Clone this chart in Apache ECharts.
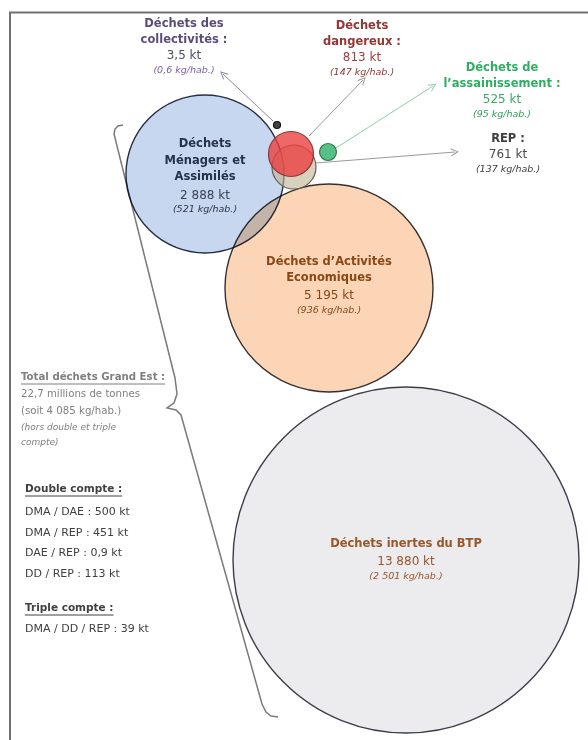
<!DOCTYPE html>
<html>
<head>
<meta charset="utf-8">
<script src="https://cdn.jsdelivr.net/npm/echarts@6/dist/echarts.min.js"></script>
<style>
  html, body { margin: 0; padding: 0; background: #fff; }
  #chart { width: 588px; height: 740px; }
</style>
</head>
<body>
<div id="chart"></div>
<script>
// Gisements de déchets du Grand Est, en kt et en kg/hab.
const categories = ["Déchets inertes du BTP", "Déchets Ménagers et Assimilés", "Déchets d’Activités Economiques",
  "REP", "Déchets dangereux", "Déchets de l’assainissement", "Déchets des collectivités"];
const titleLines = [["Déchets inertes du BTP"], ["Déchets", "Ménagers et", "Assimilés"], ["Déchets d’Activités", "Economiques"],
  ["REP :"], ["Déchets", "dangereux :"], ["Déchets de", "l’assainissement :"], ["Déchets des", "collectivités :"]];
const tonnageKt = [13880, 2888, 5195, 761, 813, 525, 3.5];
const tonnageLabels = ["13 880 kt", "2 888 kt", "5 195 kt", "761 kt", "813 kt", "525 kt", "3,5 kt"];
const ratioLabels = ["(2 501 kg/hab.)", "(521 kg/hab.)", "(936 kg/hab.)", "(137 kg/hab.)", "(147 kg/hab.)", "(95 kg/hab.)", "(0,6 kg/hab.)"];

const totalTitle = "Total déchets Grand Est :";
const totalLines = ["22,7 millions de tonnes", "(soit 4 085 kg/hab.)"];
const totalNote = ["(hors double et triple", "compte)"];
const doubleTitle = "Double compte :";
const doubleCompte = ["DMA / DAE : 500 kt", "DMA / REP : 451 kt", "DAE / REP : 0,9 kt", "DD / REP : 113 kt"];
const tripleTitle = "Triple compte :";
const tripleCompte = ["DMA / DD / REP : 39 kt"];

// placement du diagramme (repère en pixels : axes 0..588 et 0..740)
const FONT = '"DejaVu Sans", Verdana, sans-serif';
const bubbles = [
  {x: 406, y: 560, r: 173, fill: '#ececee', border: '#3a3f4a', title: '#9b5526', value: '#98552c', ital: '#98552c', dy: 0},
  {x: 205, y: 174, r: 79, fill: '#c6d7ef', border: '#2a3242', title: '#26324a', value: '#3a4254', ital: '#2e3546', dy: 3},
  {x: 329, y: 288, r: 104, fill: '#fbd5b5', border: '#34343a', title: '#8a4716', value: '#86461a', ital: '#86461a', dy: -2},
  {x: 294, y: 167, r: 22, fill: 'rgba(190,180,148,0.62)', border: '#6b5e52'},
  {x: 291, y: 154, r: 22.5, fill: 'rgba(236,60,62,0.78)', border: '#8c3636'},
  {x: 328, y: 152, r: 8.5, fill: '#56c086', border: '#2d7a4f'},
  {x: 277, y: 125, r: 3.5, fill: '#444', border: '#111'}
];
// étiquettes extérieures : centre x, y de la première ligne, couleurs
const outLabels = {
  6: {x: 184, y: 24, title: '#5b4d7a', value: '#4d4d66', ital: '#7a5fa0'},
  4: {x: 362, y: 26, title: '#943634', value: '#9c4040', ital: '#943634'},
  5: {x: 502, y: 68, title: '#2fae62', value: '#3aa864', ital: '#2e9e5b'},
  3: {x: 508, y: 139, title: '#3f3f3f', value: '#4a4a4a', ital: '#3f3f3f'}
};
const arrows = [
  {from: [273, 121], to: [223, 74], color: '#8c8c9c'},
  {from: [309, 136], to: [363, 80], color: '#9a9a9a'},
  {from: [336, 148], to: [433, 86], color: '#8ccfa6'},
  {from: [316, 163], to: [455, 152], color: '#9a9a9a'}
];

const measure = document.createElement('canvas').getContext('2d');
function textWidth(text, size, weight) {
  measure.font = (weight || 'normal') + ' ' + size + 'px ' + FONT;
  return measure.measureText(text).width;
}

function txt(x, y, text, o) {
  return {
    type: 'text', x: x, y: y, silent: true,
    style: Object.assign({
      text: text, fontFamily: FONT, fontSize: 11, fill: '#404040',
      align: 'left', verticalAlign: 'middle', textAlign: 'left', textVerticalAlign: 'middle'
    }, o)
  };
}
function underline(x, y, text, size, color) {
  let w = textWidth(text, size, 'bold');
  return {type: 'line', silent: true, shape: {x1: x, y1: y, x2: x + w, y2: y}, style: {stroke: color, lineWidth: 1}};
}

let graphics = [];
// cadre
graphics.push({type: 'line', silent: true, shape: {x1: 9, y1: 12.5, x2: 588, y2: 12.5}, style: {stroke: '#707070', lineWidth: 2}});
graphics.push({type: 'line', silent: true, shape: {x1: 10, y1: 12, x2: 10, y2: 740}, style: {stroke: '#707070', lineWidth: 2}});
// accolade
graphics.push({
  type: 'polyline', silent: true,
  shape: {points: [[123, 125], [118, 126], [115, 129], [114, 134], [170, 358], [175, 378], [177, 394], [174, 403],
    [167, 408], [176, 410], [181, 415], [262, 704], [266, 712], [271, 716], [278, 717]]},
  style: {stroke: '#7a7a7a', lineWidth: 1.5, fill: null}
});

// étiquettes extérieures
Object.keys(outLabels).forEach(function (k) {
  let o = outLabels[k];
  let y = o.y;
  titleLines[k].forEach(function (line) {
    graphics.push(txt(o.x, y, line, {fontWeight: 'bold', fontSize: 11.5, fill: o.title, align: 'center', textAlign: 'center'}));
    y += 16;
  });
  graphics.push(txt(o.x, y, tonnageLabels[k], {fontSize: 12, fill: o.value, align: 'center', textAlign: 'center'}));
  graphics.push(txt(o.x, y + 15, ratioLabels[k], {fontSize: 9.5, fontStyle: 'italic', fill: o.ital, align: 'center', textAlign: 'center'}));
});

// bloc de gauche
graphics.push(txt(21, 377, totalTitle, {fontWeight: 'bold', fontSize: 10.2, fill: '#7f7f7f'}));
graphics.push(underline(21, 384, totalTitle, 10.2, '#7f7f7f'));
totalLines.forEach(function (t, i) {
  graphics.push(txt(21, 394 + i * 17, t, {fontSize: 10.2, fill: '#7f7f7f'}));
});
totalNote.forEach(function (t, i) {
  graphics.push(txt(21, 428 + i * 15, t, {fontSize: 9, fontStyle: 'italic', fill: '#7f7f7f'}));
});
graphics.push(txt(25, 489, doubleTitle, {fontWeight: 'bold', fontSize: 10.5, fill: '#404040'}));
graphics.push(underline(25, 496, doubleTitle, 10.5, '#404040'));
doubleCompte.forEach(function (t, i) {
  graphics.push(txt(25, 512 + i * 20.7, t, {fontSize: 11, fill: '#404040'}));
});
graphics.push(txt(25, 608, tripleTitle, {fontWeight: 'bold', fontSize: 10.5, fill: '#404040'}));
graphics.push(underline(25, 615, tripleTitle, 10.5, '#404040'));
tripleCompte.forEach(function (t, i) {
  graphics.push(txt(25, 629 + i * 20.7, t, {fontSize: 11, fill: '#404040'}));
});

function bubbleItem(i) {
  let b = bubbles[i];
  let item = {
    name: categories[i],
    value: [b.x, b.y, tonnageKt[i]],
    symbolSize: b.r * 2,
    itemStyle: {color: b.fill, opacity: 1, borderColor: b.border, borderWidth: i < 3 ? 1.4 : 1.2}
  };
  if (i < 3) {
    let f = titleLines[i].map(function (l) { return '{t|' + l + '}'; }).join('\n') +
      '\n{v|' + tonnageLabels[i] + '}\n{i|' + ratioLabels[i] + '}';
    item.label = {
      show: true, position: 'inside', offset: [0, b.dy], formatter: f,
      rich: {
        t: {fontFamily: FONT, fontWeight: 'bold', fontSize: 11.5, lineHeight: 16.5, color: b.title},
        v: {fontFamily: FONT, fontSize: 12, lineHeight: 16, padding: [3.5, 0, 0, 0], color: b.value},
        i: {fontFamily: FONT, fontStyle: 'italic', fontSize: 9.5, lineHeight: 16, color: b.ital}
      }
    };
  }
  return item;
}

const chart = echarts.init(document.getElementById('chart'));
chart.setOption({
  animation: false,
  backgroundColor: '#fff',
  grid: {left: 0, top: 0, width: 588, height: 740},
  xAxis: {type: 'value', min: 0, max: 588, show: false},
  yAxis: {type: 'value', min: 0, max: 740, inverse: true, show: false},
  series: [
    {
      type: 'scatter', name: 'gros gisements', symbol: 'circle', blendMode: 'multiply', silent: true,
      itemStyle: {opacity: 1},
      label: {show: false}, emphasis: {disabled: true},
      data: [0, 1, 2].map(bubbleItem)
    },
    {
      type: 'scatter', name: 'petits gisements', symbol: 'circle', silent: true,
      itemStyle: {opacity: 1},
      label: {show: false}, emphasis: {disabled: true},
      data: [3, 4, 5, 6].map(bubbleItem)
    },
    {
      type: 'lines', coordinateSystem: 'cartesian2d', silent: true, z: 1,
      symbol: ['none', 'path://M0,10 L5,0 L10,10 L8.6,10 L5,2.6 L1.4,10 Z'], symbolSize: [9, 8],
      lineStyle: {width: 1, opacity: 1},
      data: arrows.map(function (a) {
        return {coords: [a.from, a.to], lineStyle: {color: a.color}, itemStyle: {color: a.color}};
      })
    }
  ],
  graphic: graphics
});
</script>
</body>
</html>
